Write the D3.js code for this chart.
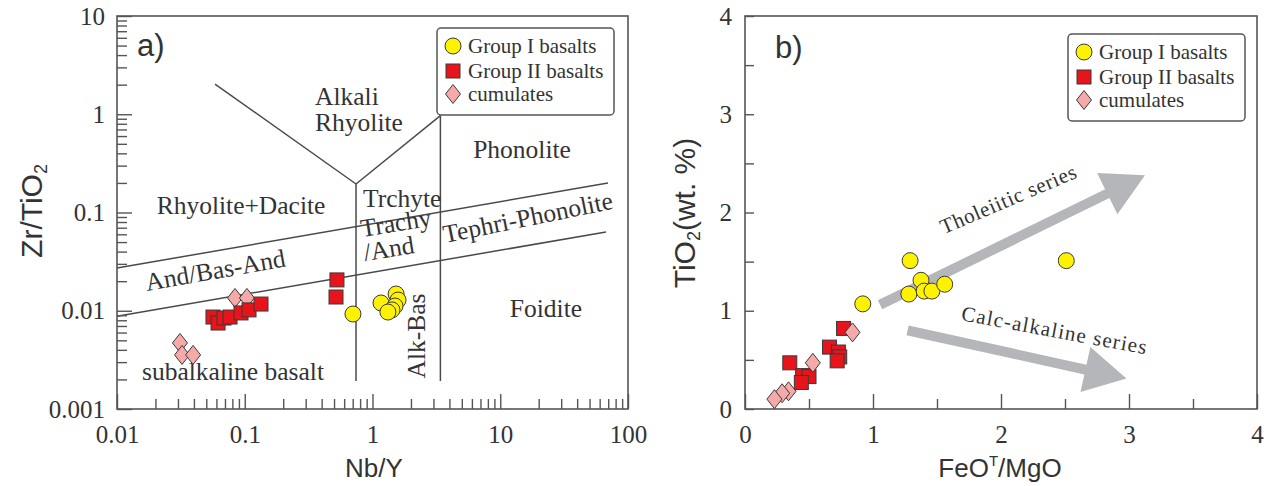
<!DOCTYPE html>
<html><head><meta charset="utf-8">
<script src="https://cdn.jsdelivr.net/npm/d3@7"></script>
<style>
html,body{margin:0;padding:0;background:#fff;}
svg{display:block;}
.serif{font-family:"Liberation Serif","Times New Roman",serif;fill:#333;}
.sans{font-family:"Liberation Sans",Arial,sans-serif;fill:#333;}
</style></head>
<body>
<svg id="chart" width="1264" height="486"></svg>
<script>
// ---------- DATA ----------
// Panel a: Nb/Y vs Zr/TiO2
const seriesNames = ["Group I basalts", "Group II basalts", "cumulates"];
const group1A = [[0.703,0.00927],[1.166,0.0120],[1.53,0.0148],[1.585,0.01285],[1.50,0.01117],[1.42,0.0102],[1.32,0.0097]];
const group2A = [[0.0564,0.00863],[0.0618,0.0075],[0.0688,0.00843],[0.0767,0.00863],[0.0935,0.0095],[0.108,0.0102],[0.134,0.0117],[0.527,0.0206],[0.518,0.0138]];
const cumA = [[0.0311,0.0047],[0.0323,0.00355],[0.0394,0.00355],[0.0839,0.0135],[0.104,0.0135]];
const boundariesA = [
  [[0.0585,2.03],[0.743,0.195]],
  [[0.743,0.195],[3.4,0.97]],
  [[0.743,0.195],[0.743,0.00193]],
  [[3.4,0.97],[3.4,0.00193]],
  [[0.01,0.0272],[69.7,0.2]],
  [[0.01,0.00877],[67.3,0.0634]]
];
const fieldNamesA = ["Alkali","Rhyolite","Phonolite","Rhyolite+Dacite","Trchyte","Trachy","/And","Tephri-Phonolite","And/Bas-And","Foidite","Alk-Bas","subalkaline basalt"];
const fieldAnchorsA = [[0.355,1.24],[0.355,0.676],[14.8,0.359],[0.0935,0.0966],[0.843,0.1138],[0.828,0.0564],[0.873,0.0321],[3.70,0.049],[0.0172,0.0159],[22.8,0.00863],[2.58,0.00553],[0.0157,0.00197]];
const xTicksA = [0.01,0.1,1,10,100];
const xTickLabelsA = ["0.01","0.1","1","10","100"];
const yTicksA = [0.001,0.01,0.1,1,10];
const yTickLabelsA = ["0.001","0.01","0.1","1","10"];

// Panel b: FeOT/MgO vs TiO2
const group1B = [[0.92,1.07],[1.29,1.51],[1.375,1.31],[1.28,1.17],[1.40,1.20],[1.46,1.20],[1.56,1.27],[2.51,1.51]];
const group2B = [[0.77,0.82],[0.66,0.63],[0.73,0.58],[0.74,0.53],[0.72,0.49],[0.35,0.47],[0.45,0.34],[0.50,0.33],[0.44,0.27]];
const cumB = [[0.84,0.78],[0.53,0.47],[0.34,0.18],[0.29,0.16],[0.23,0.10]];
const trendNames = ["Tholeiitic series","Calc-alkaline series"];
const trendArrows = [[[1.055,1.06],[3.125,2.38]],[[1.27,0.80],[2.98,0.31]]];
const trendLabelAnchors = [[2.08,2.07],[2.41,0.73]];
const xTicksB = [0,1,2,3,4];
const yTicksB = [0,1,2,3,4];

// ---------- STYLE / LAYOUT ----------
const svg = d3.select("#chart");
const C = {yellow:"#fff200", red:"#e8141c", pink:"#f5a9a9", stroke:"#3a3a3a", frame:"#555", line:"#4a4a4a", arrow:"#b5b6b9"};

const xA = d3.scaleLog().domain([0.01,100]).range([117,628]);
const yA = d3.scaleLog().domain([0.001,10]).range([409,16]);
const xB = d3.scaleLinear().domain([0,4]).range([745,1257]);
const yB = d3.scaleLinear().domain([0,4]).range([409,16]);

function minorLog(lo, hi){
  const out=[];
  for(let e=Math.log10(lo); e<Math.log10(hi); e++){
    for(let k=2;k<=9;k++) out.push(k*Math.pow(10,e));
  }
  return out;
}

function drawMarkers(g, data, x, y, kind){
  const sel = g.selectAll(null).data(data).enter();
  if(kind==="circle"){
    sel.append("circle").attr("cx",d=>x(d[0])).attr("cy",d=>y(d[1])).attr("r",8)
      .attr("fill",C.yellow).attr("stroke",C.stroke).attr("stroke-width",1);
  } else if(kind==="square"){
    sel.append("rect").attr("x",d=>x(d[0])-7).attr("y",d=>y(d[1])-7).attr("width",14).attr("height",14)
      .attr("fill",C.red).attr("stroke",C.stroke).attr("stroke-width",1);
  } else {
    sel.append("path").attr("d",d=>{const cx=x(d[0]),cy=y(d[1]);return `M${cx},${cy-9.5}L${cx+7.5},${cy}L${cx},${cy+9.5}L${cx-7.5},${cy}Z`;})
      .attr("fill",C.pink).attr("stroke",C.stroke).attr("stroke-width",1);
  }
}

function legend(g, x0, y0){
  g.append("rect").attr("x",x0).attr("y",y0).attr("width",177).attr("height",87).attr("rx",4)
    .attr("fill","#fff").attr("stroke",C.frame).attr("stroke-width",1.5);
  const kinds=["circle","square","diamond"];
  const rows=[18,43,66];
  kinds.forEach((k,i)=>{
    const cx=x0+16, cy=y0+rows[i];
    const id = d=>d;
    drawMarkers(g,[[cx,cy]],id,id,k);
    g.append("text").attr("class","serif").attr("x",x0+31).attr("y",cy+7)
      .attr("font-size",21).text(seriesNames[i]);
  });
}

// ---------- PANEL A ----------
const gA = svg.append("g");
gA.selectAll(null).data(boundariesA).enter().append("line")
  .attr("x1",d=>xA(d[0][0])).attr("y1",d=>yA(d[0][1]))
  .attr("x2",d=>xA(d[1][0])).attr("y2",d=>yA(d[1][1]))
  .attr("stroke",C.line).attr("stroke-width",1.5);

const fieldRot = [0,0,0,0,0,-9,-9,-11.5,-10,0,-90,0];
const fieldAnchor = ["start","start","middle","middle","start","start","start","start","start","middle","middle","start"];
fieldNamesA.forEach((t,i)=>{
  const px=xA(fieldAnchorsA[i][0]), py=yA(fieldAnchorsA[i][1]);
  gA.append("text").attr("class","serif").attr("font-size",25.5)
    .attr("text-anchor",fieldAnchor[i])
    .attr("transform",`translate(${px},${py}) rotate(${fieldRot[i]})`)
    .text(t);
});

gA.append("g").attr("transform","translate(0,409)")
  .call(d3.axisBottom(xA).tickValues(xTicksA).tickSize(-15).tickSizeOuter(0).tickPadding(16).tickFormat((d,i)=>xTickLabelsA[i]));
gA.append("g").attr("transform","translate(0,409)")
  .call(d3.axisBottom(xA).tickValues(minorLog(0.01,100)).tickSize(-10).tickSizeOuter(0).tickFormat(""));
gA.append("g").attr("transform","translate(117,0)")
  .call(d3.axisLeft(yA).tickValues(yTicksA).tickSize(-15).tickSizeOuter(0).tickPadding(12).tickFormat((d,i)=>yTickLabelsA[i]));
gA.append("g").attr("transform","translate(117,0)")
  .call(d3.axisLeft(yA).tickValues(minorLog(0.001,10)).tickSize(-10).tickSizeOuter(0).tickFormat(""));

gA.append("rect").attr("x",117).attr("y",16).attr("width",511).attr("height",393)
  .attr("fill","none").attr("stroke",C.frame).attr("stroke-width",1.6);

drawMarkers(gA,cumA,xA,yA,"diamond");
drawMarkers(gA,group2A,xA,yA,"square");
drawMarkers(gA,group1A,xA,yA,"circle");
legend(gA,437,28);

gA.append("text").attr("class","sans").attr("x",137).attr("y",56).attr("font-size",31).text("a)");
gA.append("text").attr("class","sans").attr("x",374).attr("y",477).attr("font-size",26).attr("text-anchor","middle").text("Nb/Y");
const tA = gA.append("text").attr("class","sans").attr("font-size",30).attr("text-anchor","middle")
  .attr("transform","translate(42,211) rotate(-90)");
tA.append("tspan").text("Zr/TiO");
tA.append("tspan").attr("font-size",18).attr("dy",5).text("2");

// ---------- PANEL B ----------
const gB = svg.append("g");
trendArrows.forEach((a,i)=>{
  const x0=xB(a[0][0]), y0=yB(a[0][1]), x1=xB(a[1][0]), y1=yB(a[1][1]);
  const L=Math.hypot(x1-x0,y1-y0), ux=(x1-x0)/L, uy=(y1-y0)/L, nx=-uy, ny=ux;
  const hw=5, hl=42, hh=23;
  const bx=x1-ux*hl, by=y1-uy*hl;
  const pts=[[x0+nx*hw,y0+ny*hw],[bx+nx*hw,by+ny*hw],[bx+nx*hh,by+ny*hh],[x1,y1],[bx-nx*hh,by-ny*hh],[bx-nx*hw,by-ny*hw],[x0-nx*hw,y0-ny*hw]];
  gB.append("path").attr("d","M"+pts.map(p=>p.join(",")).join("L")+"Z").attr("fill",C.arrow);
});
const trendRot=[-23,10.5];
const trendSpacing=[0.7,1.2];
trendNames.forEach((t,i)=>{
  const px=xB(trendLabelAnchors[i][0]), py=yB(trendLabelAnchors[i][1]);
  gB.append("text").attr("class","serif").attr("font-size",21).attr("text-anchor","middle").attr("letter-spacing",trendSpacing[i])
    .attr("transform",`translate(${px},${py}) rotate(${trendRot[i]})`).text(t);
});

gB.append("g").attr("transform","translate(0,409)")
  .call(d3.axisBottom(xB).tickValues(xTicksB).tickSize(-15).tickSizeOuter(0).tickPadding(16).tickFormat(d3.format("d")));
gB.append("g").attr("transform","translate(0,409)")
  .call(d3.axisBottom(xB).tickValues(d3.range(0.5,4,1)).tickSize(-10).tickSizeOuter(0).tickFormat(""));
gB.append("g").attr("transform","translate(745,0)")
  .call(d3.axisLeft(yB).tickValues(d3.range(0,4.01,0.5)).tickSize(-9).tickSizeOuter(0).tickPadding(13)
    .tickFormat(d=>yTicksB.includes(d)?d3.format("d")(d):""));

gB.append("rect").attr("x",745).attr("y",16).attr("width",512).attr("height",393)
  .attr("fill","none").attr("stroke",C.frame).attr("stroke-width",1.6);

drawMarkers(gB,group2B,xB,yB,"square");
drawMarkers(gB,cumB,xB,yB,"diamond");
drawMarkers(gB,group1B,xB,yB,"circle");
legend(gB,1068,34);

gB.append("text").attr("class","sans").attr("x",775).attr("y",58).attr("font-size",31).text("b)");
const tBx = gB.append("text").attr("class","sans").attr("x",1000).attr("y",477).attr("font-size",26).attr("text-anchor","middle");
tBx.append("tspan").text("FeO");
tBx.append("tspan").attr("font-size",15).attr("dy",-11).text("T");
tBx.append("tspan").attr("dy",11).text("/MgO");
const tBy = gB.append("text").attr("class","sans").attr("font-size",30).attr("text-anchor","middle")
  .attr("transform","translate(695,213) rotate(-90)");
tBy.append("tspan").text("TiO");
tBy.append("tspan").attr("font-size",18).attr("dy",5).text("2");
tBy.append("tspan").attr("dy",-5).text("(wt. %)");

svg.selectAll(".domain").remove();
svg.selectAll(".tick line").attr("stroke",C.frame).attr("stroke-width",1.4);
svg.selectAll(".tick text").attr("font-family","Liberation Serif, Times New Roman, serif")
  .attr("font-size",25).attr("fill","#333");
</script>
</body></html>
